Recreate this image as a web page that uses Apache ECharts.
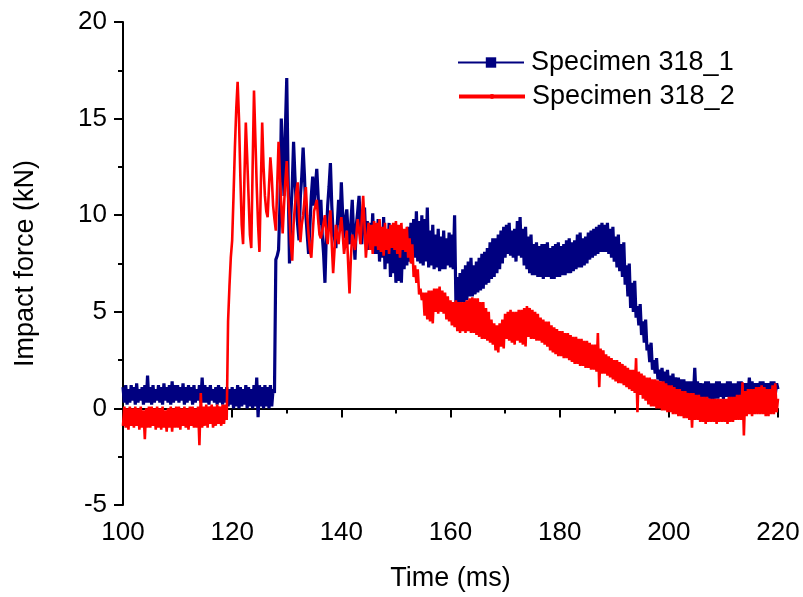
<!DOCTYPE html>
<html>
<head>
<meta charset="utf-8">
<script src="https://cdn.jsdelivr.net/npm/echarts@6/dist/echarts.min.js"></script>
<style>
  html, body { margin: 0; padding: 0; background: #fff; }
  #chart { width: 803px; height: 597px; }
</style>
</head>
<body>
<div id="chart"></div>
<script>
// sampling grid of the traces (ms)
var timeStart = 100;
var timeStep = 0.25;

var seriesNames = ['Specimen 318_1', 'Specimen 318_2'];

// Specimen 318_1, impact force (kN), one value per 0.25 ms from 100 ms (one row = 5 ms)
var specimen1 = [
    1.1, 0.3, 1.2, 0.2, 1.0, 0.3, 1.2, 0.4, 1.1, 0.2, 1.3, 0.3, 1.0, 0.4, 1.1, 0.2, 1.2, 0.3, 1.7, 0.3,
    1.1, 0.2, 1.2, 0.3, 1.0, 0.4, 1.2, 0.3, 1.1, 0.2, 1.3, 0.4, 1.1, 0.3, 1.2, 0.2, 1.4, 0.3, 1.2, 0.4,
    1.2, 0.3, 1.1, 0.4, 1.3, 0.2, 1.1, 0.3, 1.2, 0.4, 1.1, 0.2, 1.2, 0.3, 1.0, 0.4, 1.2, 0.3, 1.6, 0.3,
    1.2, 0.3, 1.1, 0.2, 1.2, 0.4, 1.0, 0.3, 1.1, 0.2, 1.2, 0.3, 1.1, 0.2, 1.0, 0.3, 1.1, 0.1, 1.0, 0.2,
    1.1, 0.0, 1.0, 0.1, 1.2, 0.0, 1.1, 0.1, 1.0, 0.2, 1.2, 0.0, 1.1, 0.1, 1.0, 0.0, 1.2, 0.1, 1.6, -0.45,
    1.2, 0.1, 1.1, 0.0, 1.2, 0.1, 1.1, 0.0, 1.2, 0.1, 1.0, 0.8, 7.7, 7.9, 8.2, 10.5, 15.0, 13.0, 11.0, 14.5,
    17.1, 12.0, 7.5, 10.0, 11.5, 13.8, 12.0, 10.5, 9.5, 8.7, 11.0, 12.0, 13.5, 12.0, 10.0, 9.0, 8.0, 9.5, 11.0, 12.0,
    10.5, 11.5, 12.4, 11.0, 9.5, 10.8, 9.0, 8.0, 6.5, 9.0, 10.5, 11.5, 12.7, 10.5, 9.0, 8.8, 8.3, 9.5, 10.8, 9.5,
    11.7, 10.0, 8.8, 9.8, 10.3, 9.0, 8.5, 9.6, 10.8, 9.0, 7.7, 9.5, 10.2, 11.0, 9.5, 8.5, 9.8, 10.4, 8.6, 9.7,
    8.2, 9.6, 8.4, 10.1, 8.0, 9.5, 8.0, 9.8, 7.6, 9.3, 7.8, 9.9, 7.2, 9.0, 7.5, 9.6, 6.8, 8.8, 7.0, 9.2,
    6.5, 8.5, 6.6, 8.8, 6.5, 8.7, 7.2, 9.0, 7.4, 9.4, 7.6, 9.6, 7.5, 9.8, 7.8, 10.2, 7.6, 9.7, 7.5, 10.0,
    7.4, 9.8, 7.6, 10.4, 7.3, 9.2, 7.4, 9.5, 7.2, 9.0, 7.3, 9.3, 7.1, 8.9, 7.2, 9.2, 7.2, 8.8, 7.4, 9.1,
    7.3, 9.0, 7.2, 10.0, 5.3, 6.8, 5.4, 7.0, 5.5, 7.2, 5.5, 7.4, 5.6, 7.6, 5.8, 7.8, 5.8, 7.4, 5.9, 7.6,
    6.0, 7.8, 6.1, 8.0, 6.2, 8.1, 6.4, 8.3, 6.5, 8.6, 6.7, 8.8, 6.8, 8.8, 7.0, 9.0, 7.2, 9.2, 7.5, 9.4,
    7.8, 9.5, 8.0, 9.6, 7.9, 9.2, 7.8, 9.3, 7.6, 9.7, 7.9, 9.9, 7.8, 9.3, 7.4, 9.4, 7.2, 8.9, 7.0, 9.0,
    6.9, 8.5, 6.9, 8.6, 6.8, 8.4, 6.8, 8.5, 6.7, 8.5, 6.8, 8.6, 6.8, 8.3, 6.7, 8.4, 6.7, 8.5, 6.8, 8.6,
    6.8, 8.4, 6.9, 8.5, 6.9, 8.7, 7.0, 8.8, 7.0, 8.6, 7.1, 8.7, 7.2, 9.0, 7.3, 9.1, 7.3, 8.8, 7.4, 8.9,
    7.5, 9.1, 7.7, 9.2, 7.8, 9.3, 7.9, 9.4, 8.0, 9.5, 8.1, 9.6, 8.1, 9.5, 8.1, 9.6, 8.0, 9.3, 7.8, 9.4,
    7.6, 8.9, 7.3, 9.0, 7.1, 8.5, 6.8, 8.6, 6.4, 7.4, 5.8, 7.5, 5.2, 6.5, 5.0, 6.6, 4.7, 5.3, 4.3, 5.4,
    3.8, 4.5, 3.4, 4.6, 3.0, 3.3, 2.4, 3.4, 2.0, 2.5, 1.8, 2.6, 1.5, 2.0, 1.4, 2.1, 1.3, 1.9, 1.1, 2.0,
    1.0, 1.7, 0.9, 1.8, 0.8, 1.6, 0.7, 1.6, 0.6, 1.5, 0.6, 1.5, 0.5, 1.4, 0.5, 1.4, 0.6, 1.4, 0.6, 2.1,
    0.5, 1.4, 0.6, 1.3, 0.6, 1.3, 0.5, 1.4, 0.5, 1.4, 0.5, 1.3, 0.4, 1.3, 0.5, 1.4, 0.5, 1.4, 0.6, 1.3,
    0.5, 1.3, 0.6, 1.4, 0.6, 1.4, 0.5, 1.3, 0.5, 1.3, 0.6, 1.4, 0.6, 1.4, 0.6, 1.3, 0.6, 1.3, 0.6, 1.6,
    0.6, 1.4, 0.7, 1.3, 0.7, 1.3, 0.6, 1.4, 0.6, 1.4, 0.7, 1.3, 0.7, 1.3, 0.6, 1.4, 0.6, 1.4, 0.7, 1.3,
    1.0
];

// Specimen 318_2, impact force (kN), one value per 0.25 ms from 100 ms (one row = 5 ms)
var specimen2 = [
    -0.9, 0.1, -1.0, 0.0, -1.1, 0.1, -0.9, 0.0, -1.0, 0.1, -0.9, 0.0, -1.1, 0.1, -1.0, -0.1, -1.6, 0.0, -1.0, 0.1,
    -1.0, 0.1, -0.9, 0.0, -1.1, 0.1, -1.0, 0.0, -1.1, 0.1, -1.0, -0.1, -1.2, 0.0, -1.0, 0.1, -1.2, 0.0, -1.0, 0.1,
    -1.0, 0.1, -1.1, 0.0, -0.9, 0.1, -1.0, 0.0, -1.1, 0.1, -0.9, 0.1, -1.0, 0.0, -1.0, 0.1, -1.9, 0.8, -1.0, 0.1,
    -0.9, 0.2, -1.0, 0.1, -0.8, 0.2, -1.0, 0.1, -0.9, 0.2, -0.8, 0.1, -0.9, 0.2, -0.8, 0.2, -0.6, 4.5, 6.3, 7.8,
    8.7, 11.0, 13.5, 15.5, 16.9, 15.0, 12.0, 9.5, 8.5, 12.0, 14.8, 13.0, 11.0, 9.0, 8.3, 12.5, 16.45, 14.0, 11.5, 9.5,
    8.1, 11.5, 14.8, 12.5, 11.0, 10.2, 9.9, 11.5, 13.0, 12.0, 10.5, 9.8, 9.2, 11.5, 13.8, 12.0, 10.5, 9.05, 10.5, 11.8,
    12.8, 11.0, 10.0, 8.5, 7.65, 9.5, 10.5, 11.2, 11.7, 10.0, 8.6, 9.5, 10.0, 10.8, 11.45, 10.0, 9.0, 8.2, 7.8, 9.0,
    10.2, 10.5, 10.8, 9.8, 9.0, 8.8, 8.9, 9.6, 10.0, 9.0, 8.5, 9.5, 10.25, 8.5, 7.0, 8.2, 9.5, 9.0, 8.5, 9.3,
    9.9, 9.0, 8.0, 8.6, 9.2, 7.5, 5.95, 7.8, 9.0, 8.6, 8.2, 9.0, 9.8, 9.2, 8.5, 9.8, 11.0, 9.5, 7.8, 8.8,
    9.6, 8.2, 9.5, 8.0, 9.7, 8.4, 9.6, 8.2, 9.8, 8.1, 9.4, 7.9, 9.6, 8.2, 9.3, 8.0, 9.5, 8.3, 9.6, 8.2,
    9.7, 8.0, 9.5, 7.8, 9.6, 8.2, 9.3, 8.1, 9.4, 7.8, 8.8, 7.5, 8.5, 6.8, 7.4, 6.5, 7.2, 5.9, 6.2, 5.6,
    6.0, 4.8, 6.0, 4.6, 6.1, 4.5, 6.1, 4.4, 6.2, 5.0, 6.2, 4.9, 6.3, 5.0, 6.1, 4.9, 6.0, 4.6, 5.8, 4.5,
    5.6, 4.3, 5.5, 4.2, 5.6, 4.0, 5.5, 3.9, 5.5, 4.0, 5.5, 3.9, 5.6, 4.0, 5.7, 3.9, 5.75, 3.9, 5.7, 3.8,
    5.7, 3.7, 5.5, 3.6, 5.5, 3.6, 5.2, 3.5, 5.0, 3.4, 4.6, 3.3, 4.4, 3.0, 4.3, 2.9, 4.4, 3.2, 4.6, 3.1,
    4.9, 3.6, 5.0, 3.5, 5.1, 3.4, 5.0, 3.3, 5.0, 3.5, 5.1, 3.4, 5.1, 3.3, 5.2, 3.2, 5.3, 3.7, 5.2, 3.6,
    5.1, 3.6, 5.0, 3.5, 4.9, 3.5, 4.7, 3.4, 4.6, 3.3, 4.5, 3.2, 4.5, 3.0, 4.3, 2.9, 4.2, 2.8, 4.1, 2.7,
    4.0, 2.7, 4.0, 2.6, 3.9, 2.6, 3.9, 2.5, 3.8, 2.4, 3.7, 2.3, 3.7, 2.3, 3.6, 2.2, 3.6, 2.2, 3.5, 2.1,
    3.5, 2.1, 3.4, 2.0, 3.3, 2.0, 3.3, 1.9, 3.9, 1.1, 3.1, 1.8, 3.0, 1.8, 2.8, 1.7, 2.7, 1.6, 2.6, 1.5,
    2.5, 1.4, 2.5, 1.3, 2.4, 1.3, 2.3, 1.2, 2.2, 1.1, 2.1, 1.0, 2.0, 0.9, 2.0, 0.8, 2.6, -0.2, 1.9, 0.7,
    1.8, 0.5, 1.7, 0.4, 1.6, 0.2, 1.6, 0.1, 1.5, 0.1, 1.5, 0.0, 1.45, 0.0, 1.4, -0.1, 1.4, -0.1, 1.3, -0.2,
    1.2, -0.2, 1.2, -0.3, 1.1, -0.3, 1.0, -0.4, 1.0, -0.4, 0.9, -0.5, 0.9, -0.5, 0.8, -0.6, 0.8, -1.0, 0.8, -0.6,
    0.7, -0.6, 0.7, -0.7, 0.6, -0.7, 0.6, -0.8, 0.6, -0.7, 0.5, -0.7, 0.5, -0.7, 0.5, -0.8, 0.5, -0.7, 0.5, -0.7,
    0.5, -0.7, 0.5, -0.8, 0.6, -0.7, 0.6, -0.7, 0.6, -0.6, 0.7, -0.6, 0.7, -0.6, 1.35, -1.4, 0.9, -0.4, 1.0, -0.3,
    1.0, -0.4, 1.0, -0.3, 1.1, -0.3, 1.1, -0.3, 1.2, -0.3, 1.1, -0.4, 1.0, -0.4, 1.0, -0.3, 1.2, -0.3, 1.3, -0.2,
    0.5
];

var toPairs = function (values) {
    var pairs = [];
    for (var i = 0; i < values.length; i++) {
        pairs.push([timeStart + i * timeStep, values[i]]);
    }
    return pairs;
};

var fontName = 'Liberation Sans';
var textStyle = { fontFamily: fontName, fontSize: 27, color: '#000' };
var tickFont = { fontFamily: fontName, fontSize: 26, color: '#000' };
var blackLine = { color: '#000', width: 2 };

var chart = echarts.init(document.getElementById('chart'), null, { renderer: 'canvas' });

var option = {
    animation: false,
    backgroundColor: '#ffffff',
    grid: {
        left: 123,
        right: 25,
        top: 22,
        bottom: 92
    },
    //one legend per entry so each marker keeps its own size
    legend: [
        {
            orient: 'vertical',
            left: 452,
            top: 44,
            itemWidth: 66,
            itemHeight: 13,
            lineStyle: { width: 2 },
            textStyle: Object.assign({ padding: [0, 0, 0, 2] }, textStyle),
            data: [seriesNames[0]]
        },
        {
            orient: 'vertical',
            left: 452,
            top: 78,
            itemWidth: 66,
            itemHeight: 6,
            lineStyle: { width: 4 },
            textStyle: Object.assign({ padding: [0, 0, 0, 2] }, textStyle),
            data: [seriesNames[1]]
        }
    ],
    xAxis: {
        type: 'value',
        min: 100,
        max: 220,
        interval: 20,
        name: 'Time (ms)',
        nameLocation: 'middle',
        nameGap: 60,
        nameTextStyle: textStyle,
        axisLine: { lineStyle: blackLine },
        axisTick: { inside: false, length: 9, lineStyle: blackLine },
        minorTick: { show: true, splitNumber: 2, length: 5, lineStyle: blackLine },
        axisLabel: Object.assign({ margin: 15 }, tickFont),
        splitLine: { show: false }
    },
    yAxis: {
        type: 'value',
        min: -5,
        max: 20,
        interval: 5,
        name: 'Impact force (kN)',
        nameLocation: 'middle',
        nameGap: 84,
        nameTextStyle: textStyle,
        axisLine: { show: true, lineStyle: blackLine },
        axisTick: { show: true, inside: false, length: 9, lineStyle: blackLine },
        minorTick: { show: true, splitNumber: 2, length: 5, lineStyle: blackLine },
        axisLabel: Object.assign({ margin: 16 }, tickFont),
        splitLine: { show: false }
    },
    series: [
        {
            name: seriesNames[0],
            type: 'line',
            data: toPairs(specimen1),
            symbol: 'rect',
            showSymbol: false,
            color: '#000080',
            lineStyle: { color: '#000080', width: 3.2 }
        },
        {
            name: seriesNames[1],
            type: 'line',
            data: toPairs(specimen2),
            symbol: 'circle',
            showSymbol: false,
            color: '#ff0000',
            lineStyle: { color: '#ff0000', width: 2.6 }
        }
    ]
};

chart.setOption(option);
</script>
</body>
</html>
